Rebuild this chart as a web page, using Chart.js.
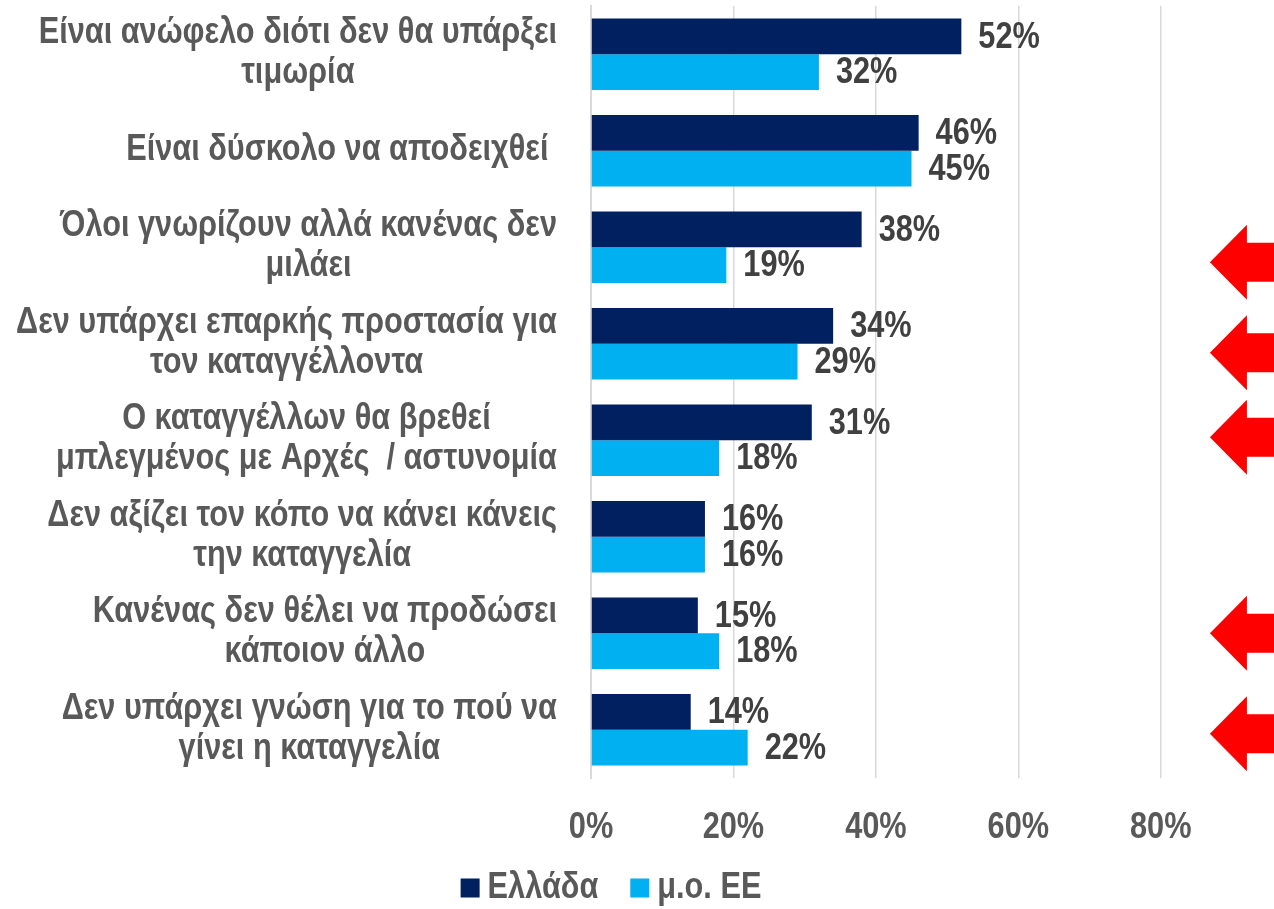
<!DOCTYPE html>
<html lang="el">
<head>
<meta charset="utf-8">
<title>Λόγοι μη καταγγελίας</title>
<script src="https://cdn.jsdelivr.net/npm/chart.js@4.4.1/dist/chart.umd.min.js"></script>
<style>
  html, body { margin: 0; padding: 0; background: #fff; }
  #wrap { width: 1274px; height: 909px; position: relative; }
</style>
</head>
<body>
<div id="wrap"><canvas id="barChart"></canvas></div>
<script>
// ── Data ──────────────────────────────────────────────────
const categories = [
  ['Είναι ανώφελο διότι δεν θα υπάρξει', 'τιμωρία'],
  ['Είναι δύσκολο να αποδειχθεί '],
  ['Όλοι γνωρίζουν αλλά κανένας δεν', 'μιλάει'],
  ['Δεν υπάρχει επαρκής προστασία για', 'τον καταγγέλλοντα'],
  ['Ο καταγγέλλων θα βρεθεί', 'μπλεγμένος με Αρχές  / αστυνομία'],
  ['Δεν αξίζει τον κόπο να κάνει κάνεις', 'την καταγγελία'],
  ['Κανένας δεν θέλει να προδώσει', 'κάποιον άλλο'],
  ['Δεν υπάρχει γνώση για το πού να', 'γίνει η καταγγελία']
];
const greece = [52, 46, 38, 34, 31, 16, 15, 14];
const euAvg  = [32, 45, 19, 29, 18, 16, 18, 22];
const seriesNames = ['Ελλάδα', 'μ.ο. ΕΕ'];
const xTicks = [0, 20, 40, 60, 80];
// categories flagged with a red arrow on the right
const flagged = [2, 3, 4, 6, 7];

// ── Styling ───────────────────────────────────────────────
const FONT       = "bold 37px 'Liberation Sans', Arial, sans-serif";
const NARROW     = 0.83;          // horizontal squeeze → Arial Narrow look
const COLOR_GR   = '#002060';
const COLOR_EU   = '#00B0F0';
const TEXT_LABEL = '#595959';
const TEXT_VALUE = '#404040';
const GRID       = '#d9d9d9';

// ── Narrow text helpers ──────────────────────────────────
function narrowWidth(ctx, text) {
  return ctx.measureText(text).width * NARROW;
}
function narrowText(ctx, text, x, y, align) {
  ctx.save();
  ctx.translate(x, y);
  ctx.scale(NARROW, 1);
  ctx.textAlign = align;
  ctx.fillText(text, 0, 0);
  ctx.restore();
}

// ── Category labels: right-aligned block, lines centred ──
const categoryLabels = {
  id: 'categoryLabels',
  afterDraw(chart) {
    const { ctx, chartArea, scales } = chart;
    const right = chartArea.left - 34;
    const lineH = 40;
    ctx.save();
    ctx.font = FONT;
    ctx.fillStyle = TEXT_LABEL;
    ctx.textBaseline = 'middle';
    categories.forEach((lines, i) => {
      const blockW = Math.max(...lines.map(l => narrowWidth(ctx, l)));
      const cx = right - blockW / 2;
      const cy = scales.y.getPixelForValue(i) - 1;
      const top = cy - (lines.length - 1) * lineH / 2;
      lines.forEach((l, k) => narrowText(ctx, l, cx, top + k * lineH, 'center'));
    });
    ctx.restore();
  }
};

// ── Value labels at bar ends ─────────────────────────────
const valueLabels = {
  id: 'valueLabels',
  afterDatasetsDraw(chart) {
    const { ctx } = chart;
    ctx.save();
    ctx.font = FONT;
    ctx.fillStyle = TEXT_VALUE;
    ctx.textBaseline = 'middle';
    chart.data.datasets.forEach((ds, di) => {
      chart.getDatasetMeta(di).data.forEach((bar, i) => {
        narrowText(ctx, ds.data[i] + '%', bar.x + 17, bar.y + 1, 'left');
      });
    });
    ctx.restore();
  }
};

// ── X tick labels ────────────────────────────────────────
const xTickLabels = {
  id: 'xTickLabels',
  afterDraw(chart) {
    const { ctx, chartArea, scales } = chart;
    ctx.save();
    ctx.font = FONT;
    ctx.fillStyle = TEXT_LABEL;
    ctx.textBaseline = 'middle';
    xTicks.forEach(v => {
      narrowText(ctx, v + '%', scales.x.getPixelForValue(v), chartArea.bottom + 50, 'center');
    });
    ctx.restore();
  }
};

// ── Legend (bottom) ──────────────────────────────────────
const bottomLegend = {
  id: 'bottomLegend',
  afterDraw(chart) {
    const { ctx } = chart;
    const box = 19, gap = 8, itemGap = 32;
    const colors = [COLOR_GR, COLOR_EU];
    ctx.save();
    ctx.font = FONT;
    ctx.textBaseline = 'middle';
    const widths = seriesNames.map(n => narrowWidth(ctx, n));
    const total = widths.reduce((a, w) => a + box + gap + w, 0) + itemGap * (seriesNames.length - 1);
    let x = (chart.width - 52) / 2 - total / 2;
    const y = chart.height - 21;
    seriesNames.forEach((n, i) => {
      ctx.fillStyle = colors[i];
      ctx.fillRect(x, y - box / 2, box, box);
      ctx.fillStyle = TEXT_LABEL;
      narrowText(ctx, n, x + box + gap, y, 'left');
      x += box + gap + widths[i] + itemGap;
    });
    ctx.restore();
  }
};

// ── Red arrows on the right edge ─────────────────────────
const redArrows = {
  id: 'redArrows',
  afterDraw(chart) {
    const { ctx, scales } = chart;
    const nudge = chart.options.plugins.redArrows.nudge;
    const tip = scales.x.getPixelForValue(86.9);
    const headLen = 37, headH = 37.5, shaftH = 19.5;
    const end = chart.width + 5;
    ctx.save();
    ctx.fillStyle = '#ff0000';
    flagged.forEach((idx, k) => {
      const cy = scales.y.getPixelForValue(idx) + nudge[k];
      ctx.beginPath();
      ctx.moveTo(tip, cy);
      ctx.lineTo(tip + headLen, cy - headH);
      ctx.lineTo(tip + headLen, cy - shaftH);
      ctx.lineTo(end, cy - shaftH);
      ctx.lineTo(end, cy + shaftH);
      ctx.lineTo(tip + headLen, cy + shaftH);
      ctx.lineTo(tip + headLen, cy + headH);
      ctx.closePath();
      ctx.fill();
    });
    ctx.restore();
  }
};

new Chart(document.getElementById('barChart'), {
  type: 'bar',
  data: {
    labels: categories,
    datasets: [
      {
        label: seriesNames[0],
        data: greece,
        backgroundColor: COLOR_GR,
        categoryPercentage: 0.74,
        barPercentage: 1.0
      },
      {
        label: seriesNames[1],
        data: euAvg,
        backgroundColor: COLOR_EU,
        categoryPercentage: 0.74,
        barPercentage: 1.0
      }
    ]
  },
  options: {
    indexAxis: 'y',
    responsive: true,
    maintainAspectRatio: false,
    animation: false,
    layout: { padding: { top: 6, right: 42, bottom: 59, left: 0 } },
    plugins: {
      legend: { display: false },
      tooltip: { enabled: false },
      redArrows: { nudge: [15, 9, -3, 0, 4] }
    },
    scales: {
      x: {
        min: 0,
        max: 90,
        afterBuildTicks(scale) {
          scale.ticks = xTicks.map(v => ({ value: v }));
        },
        afterFit(scale) { scale.height = 72; },
        grid: { color: GRID, lineWidth: 1.5, drawTicks: false },
        border: { display: false },
        ticks: { display: false }
      },
      y: {
        afterFit(scale) { scale.width = 591; },
        grid: { display: false },
        border: { display: true, color: GRID, width: 2 },
        ticks: { display: false }
      }
    }
  },
  plugins: [categoryLabels, valueLabels, xTickLabels, bottomLegend, redArrows]
});
</script>
</body>
</html>
